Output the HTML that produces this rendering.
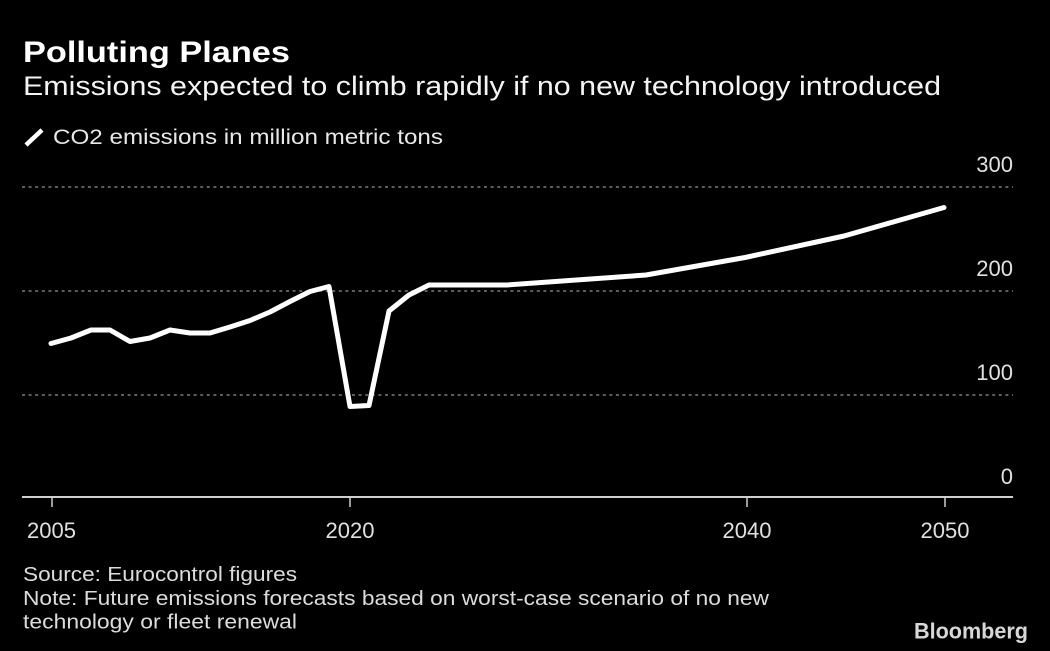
<!DOCTYPE html>
<html>
<head>
<meta charset="utf-8">
<style>
  html, body { margin: 0; padding: 0; background: #000; }
  body { width: 1050px; height: 651px; overflow: hidden; }
  svg { display: block; }
  text { font-family: "Liberation Sans", "DejaVu Sans", sans-serif; }
</style>
</head>
<body>
<svg width="1050" height="651" viewBox="0 0 1050 651" xmlns="http://www.w3.org/2000/svg">
  <rect x="0" y="0" width="1050" height="651" fill="#000"/>

  <!-- Title -->
  <text x="23" y="62" font-size="30" font-weight="bold" fill="#ffffff" textLength="267" lengthAdjust="spacingAndGlyphs">Polluting Planes</text>
  <!-- Subtitle -->
  <text x="23" y="95" font-size="27" fill="#f4f4f4" textLength="918" lengthAdjust="spacingAndGlyphs">Emissions expected to climb rapidly if no new technology introduced</text>

  <!-- Legend -->
  <line x1="26" y1="145" x2="42" y2="130" stroke="#ffffff" stroke-width="4.5" stroke-linecap="butt"/>
  <text x="53" y="144" font-size="21.5" fill="#e8e8e8" textLength="390" lengthAdjust="spacingAndGlyphs">CO2 emissions in million metric tons</text>

  <!-- Gridlines -->
  <g stroke="#7a7a7a" stroke-width="1.5" stroke-dasharray="3 3.6">
    <line x1="22" y1="187" x2="1013" y2="187"/>
    <line x1="22" y1="291" x2="1013" y2="291"/>
    <line x1="22" y1="395" x2="1013" y2="395"/>
  </g>

  <!-- Y labels -->
  <g font-size="22" fill="#e0e0e0" text-anchor="end">
    <text x="1013" y="172">300</text>
    <text x="1013" y="276">200</text>
    <text x="1013" y="380">100</text>
    <text x="1013" y="484">0</text>
  </g>

  <!-- X axis -->
  <line x1="22" y1="497" x2="1013" y2="497" stroke="#cfcfcf" stroke-width="2"/>
  <g stroke="#cfcfcf" stroke-width="1.5">
    <line x1="52" y1="497" x2="52" y2="507"/>
    <line x1="350" y1="497" x2="350" y2="507"/>
    <line x1="747" y1="497" x2="747" y2="507"/>
    <line x1="945" y1="497" x2="945" y2="507"/>
  </g>
  <g font-size="22" fill="#e0e0e0" text-anchor="middle">
    <text x="51.5" y="538">2005</text>
    <text x="350" y="538">2020</text>
    <text x="747" y="538">2040</text>
    <text x="945" y="538">2050</text>
  </g>

  <!-- Data line -->
  <polyline fill="none" stroke="#ffffff" stroke-width="5" stroke-linejoin="round" stroke-linecap="round"
    points="51,343.5 71,338 91,330 110,330 130,341.5 150,338 170,330 190,333 210,333 230,327 250,320.5 270,312 290,301.5 310,291.5 329,286.5 350,406.5 369,405.5 389,311 409,295 429,285 507,285 646,275 745,257.5 844,236 944,207.5"/>

  <!-- Footer -->
  <g font-size="20.5" fill="#dcdcdc">
    <text x="23" y="581" textLength="274" lengthAdjust="spacingAndGlyphs">Source: Eurocontrol figures</text>
    <text x="23" y="605" textLength="746" lengthAdjust="spacingAndGlyphs">Note: Future emissions forecasts based on worst-case scenario of no new</text>
    <text x="23" y="628.5" textLength="274" lengthAdjust="spacingAndGlyphs">technology or fleet renewal</text>
  </g>
  <text x="914" y="638.5" font-size="22" font-weight="bold" fill="#d8d8d8" textLength="114" lengthAdjust="spacingAndGlyphs">Bloomberg</text>
</svg>
</body>
</html>
